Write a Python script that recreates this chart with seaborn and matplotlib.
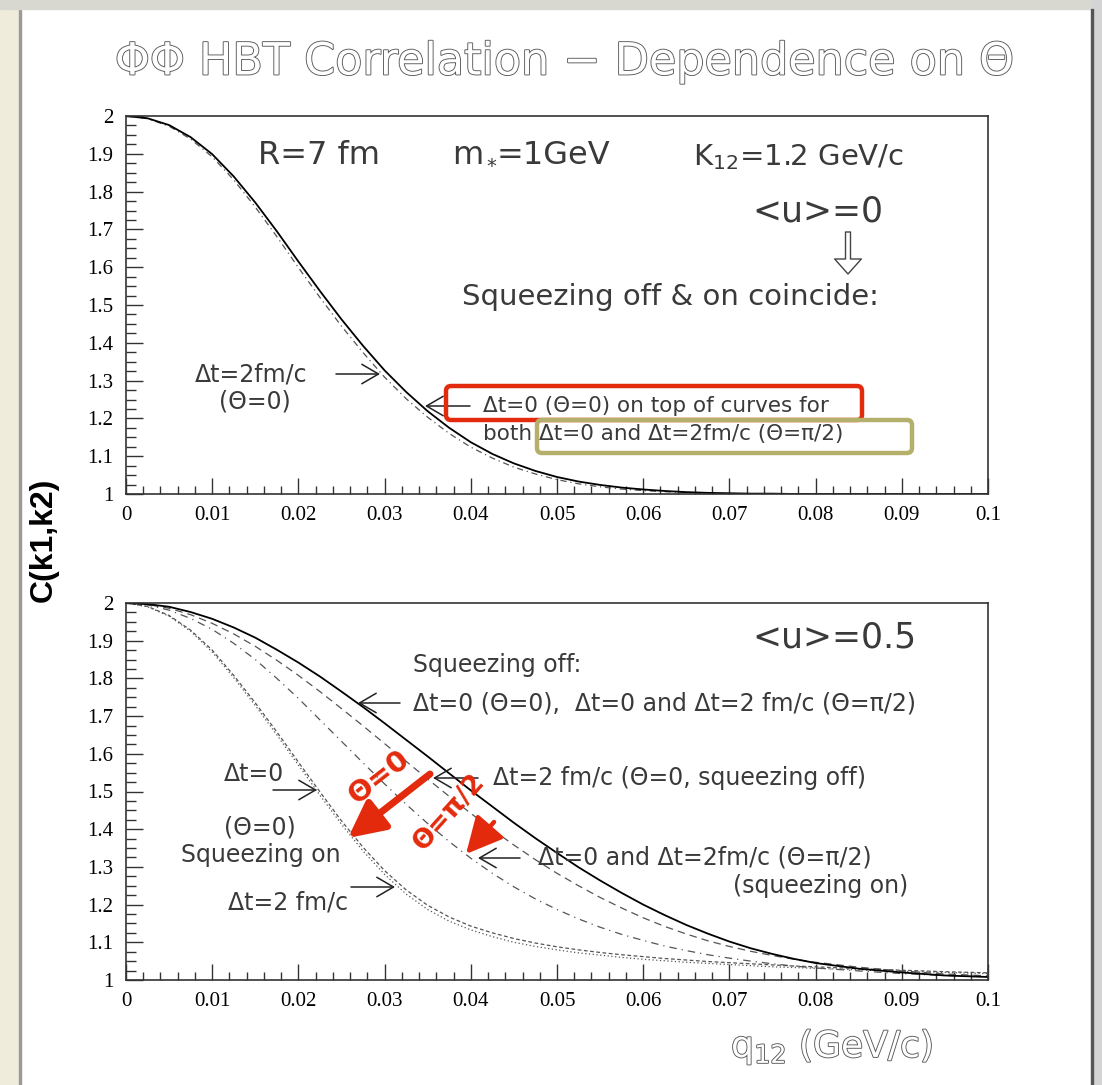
import matplotlib
matplotlib.use("Agg")
import matplotlib.pyplot as plt
import matplotlib.patheffects as pe
from matplotlib.patches import FancyBboxPatch, Rectangle
from matplotlib.transforms import Affine2D
from matplotlib.ticker import MultipleLocator
import seaborn as sns

sns.set_theme(style="white")
plt.rcParams["font.family"] = ["DejaVu Sans"]

# q12 grid (GeV/c)
q = [0, 0.0025, 0.005, 0.0075, 0.01, 0.0125, 0.015, 0.0175, 0.02, 0.0225,
     0.025, 0.0275, 0.03, 0.0325, 0.035, 0.0375, 0.04, 0.0425, 0.045, 0.0475,
     0.05, 0.0525, 0.055, 0.0575, 0.06, 0.0625, 0.065, 0.0675, 0.07, 0.0725,
     0.075, 0.0775, 0.08, 0.085, 0.09, 0.095, 0.1]

# <u>=0 panel
top_solid = [2.000, 1.994, 1.976, 1.944, 1.899, 1.840, 1.771, 1.695, 1.615, 1.537,
             1.462, 1.392, 1.327, 1.270, 1.219, 1.175, 1.137, 1.106, 1.081, 1.061,
             1.045, 1.033, 1.024, 1.017, 1.012, 1.008, 1.005, 1.003, 1.002, 1.001,
             1.001, 1.000, 1.000, 1.000, 1.000, 1.000, 1.000]
top_dt2 = [2.000, 1.993, 1.973, 1.939, 1.892, 1.831, 1.759, 1.681, 1.599, 1.520,
           1.444, 1.374, 1.309, 1.252, 1.203, 1.160, 1.124, 1.095, 1.071, 1.053,
           1.038, 1.027, 1.019, 1.013, 1.009, 1.006, 1.004, 1.002, 1.001, 1.001,
           1.000, 1.000, 1.000, 1.000, 1.000, 1.000, 1.000]

# <u>=0.5 panel
off_dt0 = [2.000, 1.997, 1.990, 1.976, 1.958, 1.935, 1.908, 1.876, 1.842, 1.805,
           1.765, 1.724, 1.681, 1.637, 1.593, 1.548, 1.503, 1.460, 1.417, 1.376,
           1.337, 1.299, 1.264, 1.231, 1.200, 1.172, 1.146, 1.123, 1.102, 1.084,
           1.069, 1.056, 1.045, 1.030, 1.020, 1.012, 1.008]
off_dt2 = [2.000, 1.996, 1.986, 1.969, 1.946, 1.918, 1.885, 1.848, 1.808, 1.765,
           1.720, 1.674, 1.627, 1.580, 1.533, 1.487, 1.442, 1.399, 1.358, 1.319,
           1.283, 1.250, 1.219, 1.191, 1.165, 1.142, 1.122, 1.104, 1.089, 1.076,
           1.065, 1.055, 1.047, 1.034, 1.024, 1.016, 1.011]
on_pi2 = [2.000, 1.995, 1.981, 1.959, 1.930, 1.893, 1.850, 1.800, 1.747, 1.690,
          1.633, 1.576, 1.520, 1.466, 1.415, 1.367, 1.323, 1.283, 1.247, 1.215,
          1.187, 1.162, 1.140, 1.121, 1.105, 1.090, 1.078, 1.067, 1.058, 1.050,
          1.043, 1.037, 1.032, 1.024, 1.017, 1.012, 1.008]
on_dt0 = [2.000, 1.990, 1.965, 1.925, 1.870, 1.802, 1.728, 1.650, 1.570, 1.490,
          1.413, 1.342, 1.280, 1.228, 1.187, 1.156, 1.133, 1.115, 1.100, 1.089,
          1.080, 1.072, 1.066, 1.060, 1.055, 1.051, 1.047, 1.044, 1.041, 1.038,
          1.035, 1.033, 1.031, 1.027, 1.023, 1.020, 1.017]
on_dt2 = [2.000, 1.991, 1.967, 1.928, 1.875, 1.808, 1.735, 1.658, 1.578, 1.499,
          1.422, 1.352, 1.290, 1.239, 1.198, 1.167, 1.143, 1.125, 1.110, 1.098,
          1.088, 1.080, 1.073, 1.067, 1.062, 1.057, 1.053, 1.049, 1.046, 1.043,
          1.040, 1.037, 1.035, 1.030, 1.026, 1.022, 1.019]

xticks = [0, 0.01, 0.02, 0.03, 0.04, 0.05, 0.06, 0.07, 0.08, 0.09, 0.1]
xlabels = ["0", "0.01", "0.02", "0.03", "0.04", "0.05", "0.06", "0.07", "0.08", "0.09", "0.1"]
yticks = [1, 1.1, 1.2, 1.3, 1.4, 1.5, 1.6, 1.7, 1.8, 1.9, 2]
ylabels = ["1", "1.1", "1.2", "1.3", "1.4", "1.5", "1.6", "1.7", "1.8", "1.9", "2"]

W, H = 1102, 1085
RED = "#e42a0c"
TXT = "#3a3a3a"

fig = plt.figure(figsize=(W / 100, H / 100), dpi=100)
fig.patch.set_facecolor("white")
pix = Affine2D().scale(1 / W, -1 / H).translate(0, 1) + fig.transFigure

# slide frame
fig.patches.append(Rectangle((0, 0), 19, H, transform=pix, color="#efecdc", zorder=-2))
fig.patches.append(Rectangle((19, 0), 2, H, transform=pix, color="#9a9a9a", zorder=-2))
fig.patches.append(Rectangle((0, 0), W, 9, transform=pix, color="#d8d8d0", zorder=-2))
fig.patches.append(Rectangle((1092, 0), 10, H, transform=pix, color="#d4d4d4", zorder=-2))
fig.patches.append(Rectangle((1091, 9), 2, H, transform=pix, color="#555555", zorder=-2))

ax1 = fig.add_axes([126 / W, 1 - 494 / H, 862 / W, 378 / H])
ax2 = fig.add_axes([126 / W, 1 - 980 / H, 862 / W, 377 / H])

sns.lineplot(x=q, y=top_dt2, ax=ax1, color="#555555", lw=0.9, linestyle=(0, (5, 3, 1, 3)))
sns.lineplot(x=q, y=top_solid, ax=ax1, color="black", lw=1.3)

sns.lineplot(x=q, y=on_dt2, ax=ax2, color="#555555", lw=0.9, linestyle=(0, (3, 2)))
sns.lineplot(x=q, y=on_dt0, ax=ax2, color="#555555", lw=0.9, linestyle=(0, (1, 2)))
sns.lineplot(x=q, y=on_pi2, ax=ax2, color="#555555", lw=0.9, linestyle=(0, (6, 4, 1, 4)))
sns.lineplot(x=q, y=off_dt2, ax=ax2, color="#555555", lw=0.9, linestyle=(0, (6, 4)))
sns.lineplot(x=q, y=off_dt0, ax=ax2, color="black", lw=1.3)

for ax in (ax1, ax2):
    ax.set_facecolor("none")
    ax.set_xlim(0, 0.1)
    ax.set_ylim(1, 2)
    ax.set_xticks(xticks)
    ax.set_xticklabels(xlabels)
    ax.set_yticks(yticks)
    ax.set_yticklabels(ylabels)
    ax.xaxis.set_minor_locator(MultipleLocator(0.002))
    ax.yaxis.set_minor_locator(MultipleLocator(0.025))
    ax.tick_params(axis="x", which="major", direction="in", length=11.5, width=1, color="#333", pad=9)
    ax.tick_params(axis="x", which="minor", direction="in", length=5.8, width=1, color="#333")
    ax.tick_params(axis="y", which="major", direction="in", length=12, width=1, color="#333", pad=9)
    ax.tick_params(axis="y", which="minor", direction="in", length=7, width=1, color="#333")
    ax.tick_params(bottom=True, left=True, which="both")
    for lab in ax.get_xticklabels() + ax.get_yticklabels():
        lab.set_fontfamily("Liberation Serif")
        lab.set_fontsize(15)
        lab.set_color("black")
    for s in ax.spines.values():
        s.set_color("#333333")
        s.set_linewidth(1.2)
    ax.set_xlabel("")
    ax.set_ylabel("")
    ax.grid(False)

outline = [pe.withStroke(linewidth=1.3, foreground="#5a5a5a")]
fig.text(565 / W, 1 - 62 / H, "ΦΦ HBT Correlation − Dependence on Θ", ha="center", va="center",
         fontsize=32, color="white", path_effects=outline)
fig.text(832 / W, 1 - 1047 / H, "q$_{12}$ (GeV/c)", ha="center", va="center",
         fontsize=26, color="white", path_effects=outline)
fig.text(44 / W, 1 - 540 / H, "C(k1,k2)", rotation=90, ha="center", va="center",
         fontsize=23, fontweight="bold", family="Liberation Sans", color="black")


def label(ax, x, y, s, size=17, ha="left", va="center", color=TXT, **kw):
    ax.text(x, y, s, transform=pix, ha=ha, va=va, fontsize=size, color=color, **kw)


def arrow(ax, x0, y0, x1, y1):
    ax.annotate("", xy=(x1, y1), xycoords=pix, xytext=(x0, y0), textcoords=pix,
                arrowprops=dict(arrowstyle="->,head_length=0.6,head_width=0.35", color="#222222",
                                lw=1.1, shrinkA=0, shrinkB=0, mutation_scale=20))


# top panel texts
label(ax1, 258, 164, "R=7 fm", size=23, va="baseline")
label(ax1, 452, 164, "m", size=23, va="baseline")
label(ax1, 486, 172, "*", size=14, va="baseline")
label(ax1, 497, 164, "=1GeV", size=23, va="baseline")
label(ax1, 693, 165, "K$_{12}$=1.2 GeV/c", size=21, va="baseline")
label(ax1, 752, 212, "<u>=0", size=25)
label(ax1, 462, 297, "Squeezing off & on coincide:", size=21)
label(ax1, 251, 374, "Δt=2fm/c", size=17, ha="center")
label(ax1, 255, 402, "(Θ=0)", size=17, ha="center")
label(ax1, 483, 406, "Δt=0 (Θ=0) on top of curves for", size=15.5)
label(ax1, 483, 434, "both Δt=0 and Δt=2fm/c (Θ=π/2)", size=15.5)
arrow(ax1, 336, 374, 380, 374)
arrow(ax1, 470, 406, 425, 406)
ax1.annotate("", xy=(848, 274), xycoords=pix, xytext=(848, 232), textcoords=pix,
             arrowprops=dict(arrowstyle="simple,head_length=0.9,head_width=1.6,tail_width=0.3",
                             fc="white", ec="#444444", lw=1, shrinkA=0, shrinkB=0, mutation_scale=12))
fig.patches.append(FancyBboxPatch((446, 386), 416, 34, boxstyle="round,pad=0,rounding_size=5",
                                  transform=pix, fill=False, ec=RED, lw=3.2, zorder=3))
fig.patches.append(FancyBboxPatch((537, 420), 375, 33, boxstyle="round,pad=0,rounding_size=5",
                                  transform=pix, fill=False, ec="#b4b06c", lw=3.2, zorder=3))

# bottom panel texts
label(ax2, 752, 637, "<u>=0.5", size=25)
label(ax2, 413, 665, "Squeezing off:", size=17)
label(ax2, 413, 703, "Δt=0 (Θ=0),  Δt=0 and Δt=2 fm/c (Θ=π/2)", size=17)
label(ax2, 493, 778, "Δt=2 fm/c (Θ=0, squeezing off)", size=17)
label(ax2, 538, 858, "Δt=0 and Δt=2fm/c (Θ=π/2)", size=17)
label(ax2, 733, 886, "(squeezing on)", size=17)
label(ax2, 224, 774, "Δt=0", size=17)
label(ax2, 224, 827, "(Θ=0)", size=17)
label(ax2, 181, 855, "Squeezing on", size=17)
label(ax2, 228, 903, "Δt=2 fm/c", size=17)
arrow(ax2, 400, 703, 358, 703)
arrow(ax2, 478, 778, 433, 778)
arrow(ax2, 520, 858, 478, 858)
arrow(ax2, 273, 790, 317, 790)
arrow(ax2, 351, 887, 395, 887)

# red Theta annotations
label(ax2, 379, 777, "Θ=0", size=21, ha="center", color=RED, fontweight="bold", rotation=38)
label(ax2, 449, 812, "Θ=π/2", size=19, ha="center", color=RED, fontweight="bold", rotation=48)
for x0, y0, x1, y1, w in [(430, 774, 348, 838, 5.0), (494, 822, 466, 854, 3.2)]:
    ax2.annotate("", xy=(x1, y1), xycoords=pix, xytext=(x0, y0), textcoords=pix,
                 arrowprops=dict(arrowstyle="-|>,head_length=1.1,head_width=0.55", color=RED,
                                 lw=w, shrinkA=0, shrinkB=0, mutation_scale=20))

fig.savefig("out.png", dpi=100)
